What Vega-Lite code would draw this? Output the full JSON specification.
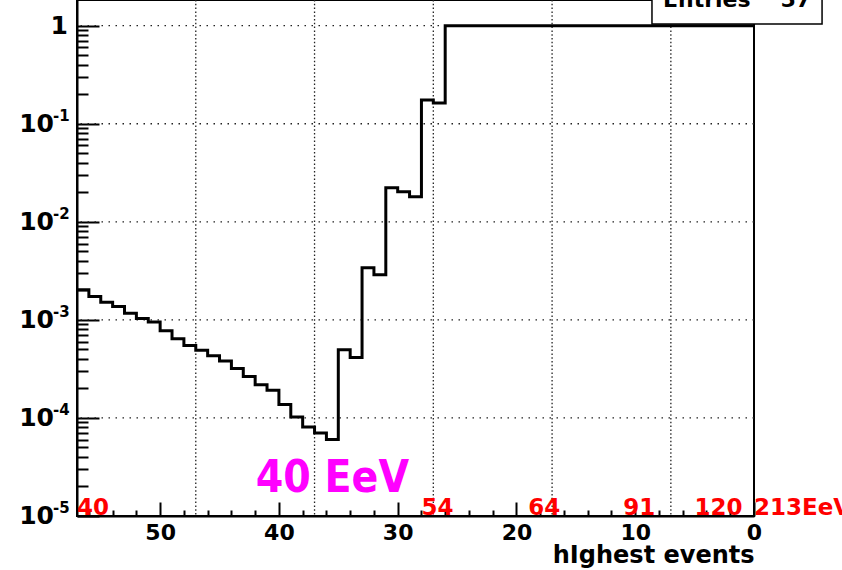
{
  "$schema": "https://vega.github.io/schema/vega-lite/v6.json",
  "width": 677,
  "height": 516,
  "autosize": {"type": "none"},
  "padding": {"left": 77, "right": 88, "top": 0, "bottom": 54},
  "background": "white",
  "config": {"view": {"stroke": "black", "strokeWidth": 2}, "font": "DejaVu Sans"},
  "resolve": {"axis": {"x": "independent", "y": "independent"}},
  "datasets": {
    "hist": [
      {"edge": 0, "v": 1}, {"edge": 1, "v": 1}, {"edge": 2, "v": 1}, {"edge": 3, "v": 1},
      {"edge": 4, "v": 1}, {"edge": 5, "v": 1}, {"edge": 6, "v": 1}, {"edge": 7, "v": 1},
      {"edge": 8, "v": 1}, {"edge": 9, "v": 1}, {"edge": 10, "v": 1}, {"edge": 11, "v": 1},
      {"edge": 12, "v": 1}, {"edge": 13, "v": 1}, {"edge": 14, "v": 1}, {"edge": 15, "v": 1},
      {"edge": 16, "v": 1}, {"edge": 17, "v": 1}, {"edge": 18, "v": 1}, {"edge": 19, "v": 1},
      {"edge": 20, "v": 1}, {"edge": 21, "v": 1}, {"edge": 22, "v": 1}, {"edge": 23, "v": 1},
      {"edge": 24, "v": 1}, {"edge": 25, "v": 1},
      {"edge": 26, "v": 0.163}, {"edge": 27, "v": 0.175}, {"edge": 28, "v": 0.018},
      {"edge": 29, "v": 0.0202}, {"edge": 30, "v": 0.0222}, {"edge": 31, "v": 0.00288},
      {"edge": 32, "v": 0.0034}, {"edge": 33, "v": 0.000414}, {"edge": 34, "v": 0.000496},
      {"edge": 35, "v": 0.0000601}, {"edge": 36, "v": 0.0000703}, {"edge": 37, "v": 0.000081},
      {"edge": 38, "v": 0.000102}, {"edge": 39, "v": 0.000137}, {"edge": 40, "v": 0.000191},
      {"edge": 41, "v": 0.000218}, {"edge": 42, "v": 0.000265}, {"edge": 43, "v": 0.00032},
      {"edge": 44, "v": 0.000381}, {"edge": 45, "v": 0.000431}, {"edge": 46, "v": 0.000489},
      {"edge": 47, "v": 0.000549}, {"edge": 48, "v": 0.000642}, {"edge": 49, "v": 0.000774},
      {"edge": 50, "v": 0.00095}, {"edge": 51, "v": 0.00103}, {"edge": 52, "v": 0.00117},
      {"edge": 53, "v": 0.00137}, {"edge": 54, "v": 0.00151}, {"edge": 55, "v": 0.00173},
      {"edge": 56, "v": 0.00203}, {"edge": 57, "v": 0.00203}
    ],
    "ylab": [
      {"v": 1, "base": "1", "exp": ""},
      {"v": 0.1, "base": "10", "exp": "-1"},
      {"v": 0.01, "base": "10", "exp": "-2"},
      {"v": 0.001, "base": "10", "exp": "-3"},
      {"v": 0.0001, "base": "10", "exp": "-4"},
      {"v": 0.00001, "base": "10", "exp": "-5"}
    ],
    "xgrid": [{"x": 47}, {"x": 37}, {"x": 27}, {"x": 17}, {"x": 7}],
    "ygrid": [{"y": 1}, {"y": 0.1}, {"y": 0.01}, {"y": 0.001}, {"y": 0.0001}],
    "redlab": [
      {"x": 57, "t": "40"}, {"x": 28, "t": "54"}, {"x": 19, "t": "64"},
      {"x": 11, "t": "91"}, {"x": 5, "t": "120"}, {"x": 0, "t": "213EeV"}
    ],
    "one": [{}]
  },
  "layer": [
    {
      "data": {"name": "ygrid"},
      "mark": {"type": "rule", "color": "#222", "strokeWidth": 1.3, "strokeDash": [1.5, 5.5]},
      "encoding": {
        "y": {
          "field": "y", "type": "quantitative",
          "scale": {"type": "log", "domain": [0.00001, 1.827], "nice": false},
          "axis": {
            "orient": "left",
            "values": [0.00002, 0.00003, 0.00004, 0.00005, 0.00006, 0.00007, 0.00008, 0.00009,
                       0.0002, 0.0003, 0.0004, 0.0005, 0.0006, 0.0007, 0.0008, 0.0009,
                       0.002, 0.003, 0.004, 0.005, 0.006, 0.007, 0.008, 0.009,
                       0.02, 0.03, 0.04, 0.05, 0.06, 0.07, 0.08, 0.09,
                       0.2, 0.3, 0.4, 0.5, 0.6, 0.7, 0.8, 0.9],
            "tickSize": -11, "tickWidth": 2, "tickColor": "black",
            "domain": false, "labels": false, "grid": false, "title": null
          }
        }
      }
    },
    {
      "data": {"name": "xgrid"},
      "mark": {"type": "rule", "color": "#222", "strokeWidth": 1.3, "strokeDash": [1.5, 2.3]},
      "encoding": {
        "x": {
          "field": "x", "type": "quantitative",
          "scale": {"domain": [0, 57], "reverse": true, "nice": false, "zero": false},
          "axis": {
            "orient": "bottom",
            "values": [2, 4, 6, 8, 12, 14, 16, 18, 22, 24, 26, 28, 32, 34, 36, 38, 42, 44, 46, 48, 52, 54, 56],
            "tickSize": -6, "tickWidth": 2, "tickColor": "black",
            "domain": false, "labels": false, "grid": false, "title": null
          }
        }
      }
    },
    {
      "data": {"name": "hist"},
      "mark": {"type": "line", "interpolate": "step-before", "color": "black", "strokeWidth": 3},
      "encoding": {
        "order": {"field": "edge", "type": "quantitative", "sort": "descending"},
        "x": {
          "field": "edge", "type": "quantitative",
          "axis": {
            "orient": "bottom",
            "values": [0, 10, 20, 30, 40, 50],
            "tickSize": -14, "tickWidth": 2, "tickColor": "black",
            "domainColor": "black", "domainWidth": 2,
            "labelFont": "DejaVu Sans", "labelFontWeight": "bold", "labelFontSize": 22, "labelColor": "black",
            "labelPadding": 20, "labelFlush": false, "labelOverlap": false, "labelBound": false,
            "grid": false,
            "title": "hIghest events", "titleFont": "DejaVu Sans", "titleFontSize": 24, "titleFontWeight": "bold",
            "titleColor": "black", "titleAnchor": "start", "titleAlign": "right", "titlePadding": 0
          }
        },
        "y": {
          "field": "v", "type": "quantitative",
          "axis": {
            "orient": "left",
            "values": [0.00001, 0.0001, 0.001, 0.01, 0.1, 1],
            "tickSize": -22, "tickWidth": 2, "tickColor": "black",
            "domainColor": "black", "domainWidth": 2,
            "labels": false, "grid": false, "title": null
          }
        }
      }
    },
    {
      "data": {"name": "ylab"},
      "transform": [{"filter": "datum.exp !== ''"}],
      "mark": {"type": "text", "align": "right", "baseline": "alphabetic", "dx": -23, "dy": 8, "font": "DejaVu Sans", "fontWeight": "bold", "fontSize": 25, "color": "black"},
      "encoding": {
        "x": {"datum": 57, "axis": null},
        "y": {"field": "v", "type": "quantitative", "axis": null},
        "text": {"field": "base"}
      }
    },
    {
      "data": {"name": "ylab"},
      "transform": [{"filter": "datum.exp !== ''"}],
      "mark": {"type": "text", "align": "left", "baseline": "alphabetic", "dx": -24, "dy": -3, "font": "DejaVu Sans", "fontWeight": "bold", "fontSize": 15, "color": "black"},
      "encoding": {
        "x": {"datum": 57, "axis": null},
        "y": {"field": "v", "type": "quantitative", "axis": null},
        "text": {"field": "exp"}
      }
    },
    {
      "data": {"name": "ylab"},
      "transform": [{"filter": "datum.exp === ''"}],
      "mark": {"type": "text", "align": "right", "baseline": "alphabetic", "dx": -9, "dy": 8, "font": "DejaVu Sans", "fontWeight": "bold", "fontSize": 25, "color": "black"},
      "encoding": {
        "x": {"datum": 57, "axis": null},
        "y": {"field": "v", "type": "quantitative", "axis": null},
        "text": {"field": "base"}
      }
    },
    {
      "data": {"name": "redlab"},
      "mark": {"type": "text", "align": "left", "baseline": "alphabetic", "dy": -1, "font": "DejaVu Sans", "fontWeight": "bold", "fontSize": 23, "color": "#ff0000"},
      "encoding": {
        "x": {"field": "x", "type": "quantitative", "axis": null},
        "y": {"datum": 0.00001, "axis": null},
        "text": {"field": "t"}
      }
    },
    {
      "data": {"name": "one"},
      "mark": {"type": "text", "align": "center", "baseline": "alphabetic", "font": "Liberation Sans Narrow, DejaVu Sans Condensed, Liberation Sans", "fontWeight": "bold", "fontSize": 44, "color": "#ff00ff"},
      "encoding": {
        "x": {"datum": 35.5, "axis": null},
        "y": {"datum": 0.0000177, "axis": null},
        "text": {"value": "40 EeV"}
      }
    },
    {
      "data": {"name": "one"},
      "mark": {"type": "rect", "fill": "white", "stroke": "black", "strokeWidth": 1.5},
      "encoding": {
        "x": {"datum": 8.59, "axis": null},
        "x2": {"datum": -5.73},
        "y": {"datum": 1.04, "axis": null},
        "y2": {"datum": 3}
      }
    },
    {
      "data": {"name": "one"},
      "mark": {"type": "text", "align": "left", "baseline": "alphabetic", "font": "DejaVu Sans", "fontWeight": "bold", "fontSize": 22, "color": "black"},
      "encoding": {
        "x": {"datum": 7.66, "axis": null},
        "y": {"datum": 1.55, "axis": null},
        "text": {"value": "Entries"}
      }
    },
    {
      "data": {"name": "one"},
      "mark": {"type": "text", "align": "right", "baseline": "alphabetic", "font": "DejaVu Sans", "fontWeight": "bold", "fontSize": 22, "color": "black"},
      "encoding": {
        "x": {"datum": -4.8, "axis": null},
        "y": {"datum": 1.55, "axis": null},
        "text": {"value": "57"}
      }
    }
  ]
}
